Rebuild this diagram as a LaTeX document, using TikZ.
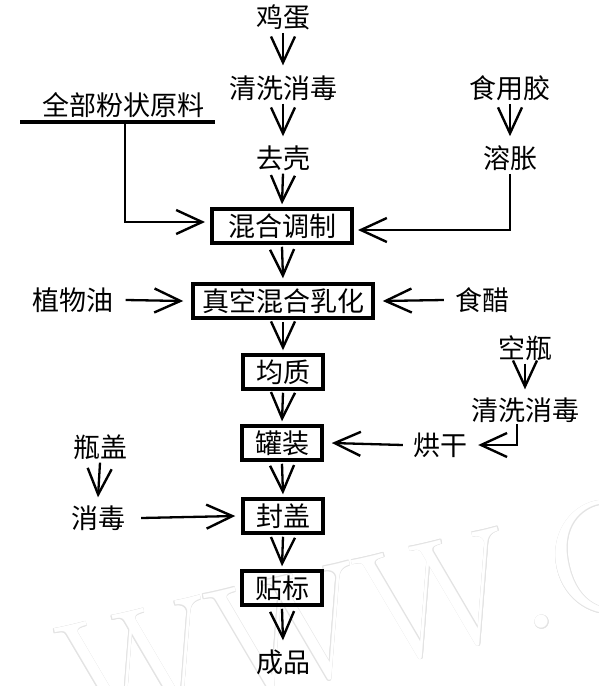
\documentclass[tikz,border=0pt]{standalone}
\usepackage{fontspec}
\newfontfamily\cjk{Noto Sans CJK SC}
\usetikzlibrary{arrows.meta}
\begin{document}
\begin{tikzpicture}[x=1pt,y=-1pt,
  lbl/.style={font=\cjk\fontsize{27}{30}\selectfont, inner sep=0pt},
  boxnode/.style={lbl, draw, line width=3.5pt, minimum height=34pt},
  arr/.style={line width=2.3pt, -{Straight Barb[length=26pt,width=24pt,line width=2.4pt]}},
  wmark/.style={rotate=13, font=\fontsize{160}{160}\selectfont, text=black!11, anchor=base west, inner sep=0pt}]
\useasboundingbox (0,0) rectangle (599,686);
% watermark (outlined letters)
\foreach \dx/\dy [count=\i] in {0.8/0,-0.8/0,0/0.8,0/-0.8,0.6/0.6,-0.6/0.6,0.6/-0.6,-0.6/-0.6}
  \node[wmark, xshift=\dx pt, yshift=\dy pt] (wmo\i) at (77,736) {WWW.C};
\node[wmark, text=white] (wm) at (77,736) {WWW.C};
% main column
\node[lbl] (egg) at (283,17) {鸡蛋};
\node[lbl] (wash) at (283,88) {清洗消毒};
\node[lbl] (shell) at (283,158) {去壳};
\node[boxnode, minimum width=140pt] (mix) at (282,226) {混合调制};
\node[boxnode, minimum width=180pt] (vac) at (283,301) {真空混合乳化};
\node[boxnode, minimum width=80pt] (hom) at (283,372) {均质};
\node[boxnode, minimum width=80pt] (can) at (282,443) {罐装};
\node[boxnode, minimum width=80pt] (cap) at (283,516) {封盖};
\node[boxnode, minimum width=80pt] (lab) at (282,588) {贴标};
\node[lbl] (prod) at (283,662) {成品};
\draw[arr] ([yshift=-3]egg.south) -- ([yshift=10]wash.north);
\draw[arr] ([yshift=-3]wash.south) -- ([yshift=9]shell.north);
\draw[arr] ([yshift=-3]shell.south) -- ([yshift=3]mix.north);
\draw[arr] ([yshift=-2]mix.south) -- ([yshift=4]vac.north);
\draw[arr] ([yshift=-2]vac.south) -- ([yshift=3]hom.north);
\draw[arr] ([yshift=-2]hom.south) -- ([yshift=3]can.north);
\draw[arr] ([yshift=-2]can.south) -- ([yshift=3]cap.north);
\draw[arr] ([yshift=-2]cap.south) -- ([yshift=3]lab.north);
\draw[arr] ([yshift=-2]lab.south) -- ([yshift=9]prod.north);
% powder
\node[lbl] (powder) at (123,105) {全部粉状原料};
\coordinate (ulL) at (20,122);
\coordinate (ulR) at (215,122);
\draw[line width=4pt] (ulL) -- (ulR);
\coordinate (pw) at (125,122);
\coordinate (mixL) at (205,222);
\draw[arr] (pw) |- (mixL);
% gelatin
\node[lbl] (gel) at (510,88) {食用胶};
\node[lbl] (swell) at (510,158) {溶胀};
\draw[arr] ([yshift=-3]gel.south) -- ([yshift=9]swell.north);
\coordinate (mixR) at (358,230);
\draw[arr] ([yshift=-3]swell.south) |- (mixR);
% oil, vinegar
\node[lbl] (oil) at (73,300) {植物油};
\node[lbl] (vin) at (482,300) {食醋};
\draw[arr] ([xshift=12]oil.east) -- ([xshift=-8]vac.west);
\draw[arr] ([xshift=-11]vin.west) -- ([xshift=8]vac.east);
% bottles
\node[lbl] (bot) at (525,348) {空瓶};
\node[lbl] (wash2) at (525,410) {清洗消毒};
\node[lbl] (dry) at (440,445) {烘干};
\draw[arr] ([yshift=-3]bot.south) -- ([yshift=8]wash2.north);
\coordinate (wb) at (517,424);
\draw[arr] (wb) |- ([xshift=11]dry.east);
\draw[arr] ([xshift=-10]dry.west) -- ([xshift=8]can.east);
% caps
\node[lbl] (lid) at (100,447) {瓶盖};
\node[lbl] (dis) at (98,518) {消毒};
\draw[arr] ([yshift=-3]lid.south) -- ([yshift=8]dis.north);
\draw[arr] ([xshift=16]dis.east) -- ([xshift=-6]cap.west);
\end{tikzpicture}
\end{document}
